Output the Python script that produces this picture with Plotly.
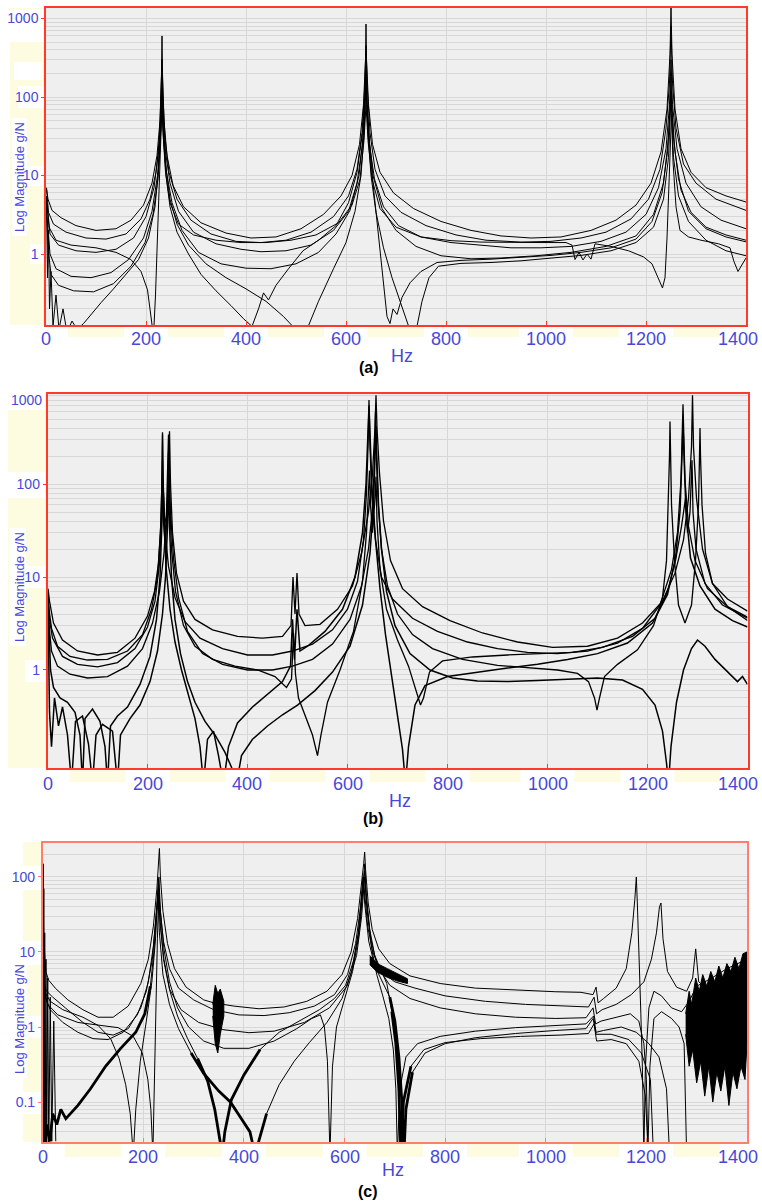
import plotly.graph_objects as go

W, H = 762, 1203
BLUE = "#4848d8"
FONT = "Liberation Sans, Arial, sans-serif"

# ---------------- panel (a): FRF magnitudes, (Hz, g/N) ----------------
a1 = [(1, 6.8), (4, 5.0), (12, 3.6), (30, 2.9), (60, 2.3), (100, 2.0), (140, 2.1), (170, 2.7), (195, 4.2),
      (212, 8), (222, 18), (228, 50), (231, 200), (232, 600), (233, 200), (236, 50), (242, 18), (254, 7.5),
      (275, 4), (310, 2.5), (360, 1.85), (410, 1.6), (460, 1.65), (510, 2.1), (555, 3.2), (590, 5.5),
      (612, 10), (627, 25), (635, 80), (639, 300), (640, 850), (641, 300), (645, 80), (653, 25), (668, 11),
      (695, 6), (735, 3.8), (790, 2.6), (850, 2.0), (910, 1.7), (970, 1.6), (1030, 1.65), (1090, 2.0),
      (1140, 2.7), (1180, 4.2), (1210, 8), (1230, 20), (1242, 70), (1248, 350), (1250, 1400), (1252, 350),
      (1258, 70), (1270, 22), (1290, 11), (1320, 7), (1360, 5.5), (1400, 4.6)]
a2 = [(1, 7.0), (5, 3.4), (15, 2.4), (40, 1.9), (80, 1.6), (120, 1.55), (160, 1.8), (190, 2.8), (208, 5),
      (220, 11), (227, 30), (230, 100), (232, 300), (234, 100), (238, 30), (246, 11), (262, 5), (290, 2.7),
      (330, 1.8), (380, 1.45), (430, 1.4), (480, 1.5), (530, 1.9), (575, 3), (605, 5.5), (622, 12),
      (632, 35), (637, 120), (640, 450), (643, 120), (648, 35), (658, 12), (678, 5.5), (710, 3.4),
      (760, 2.3), (820, 1.75), (880, 1.5), (950, 1.42), (1010, 1.45), (1070, 1.6), (1120, 1.9), (1170, 2.8),
      (1205, 5), (1228, 12), (1240, 40), (1247, 150), (1250, 800), (1253, 150), (1260, 40), (1275, 14),
      (1300, 8), (1340, 5), (1400, 3.6)]
a3 = [(2, 4.5), (8, 1.8), (25, 1.3), (60, 1.1), (100, 1.05), (140, 1.15), (175, 1.6), (200, 3.0), (216, 7),
      (225, 20), (230, 70), (232, 180), (234, 70), (239, 20), (248, 8), (265, 3.5), (295, 1.9), (340, 1.35),
      (390, 1.15), (430, 1.07), (480, 1.1), (530, 1.3), (575, 2), (605, 3.5), (622, 8), (633, 25), (638, 90),
      (640, 250), (642, 90), (647, 25), (657, 9), (675, 4), (705, 2.3), (750, 1.65), (810, 1.4), (870, 1.3),
      (930, 1.2), (990, 1.2), (1050, 1.25), (1110, 1.45), (1160, 1.9), (1200, 3.2), (1225, 7), (1240, 22),
      (1247, 80), (1250, 300), (1253, 80), (1262, 22), (1280, 8), (1310, 4), (1350, 2.7), (1400, 2.1)]
a4 = [(2, 3.0), (8, 1.0), (20, 0.65), (50, 0.52), (90, 0.5), (130, 0.58), (165, 0.85), (195, 1.6), (212, 3.5),
      (223, 10), (229, 35), (232, 110), (235, 35), (241, 11), (252, 4.5), (272, 2.0), (305, 1.05), (350, 0.75),
      (400, 0.66), (450, 0.65), (500, 0.75), (545, 1.05), (580, 1.8), (608, 3.6), (626, 10), (635, 35),
      (640, 140), (645, 35), (654, 10), (672, 3.8), (700, 2), (740, 1.25), (790, 0.95), (850, 0.87),
      (910, 0.89), (980, 0.95), (1050, 1.05), (1120, 1.25), (1180, 1.7), (1215, 3.2), (1235, 8), (1245, 30),
      (1250, 120), (1255, 30), (1265, 9), (1285, 3.5), (1320, 2.1), (1360, 1.65), (1400, 1.43)]
a5 = [(1, 5), (6, 2.2), (20, 1.5), (50, 1.3), (100, 1.2), (140, 1.05), (170, 0.85), (190, 0.6), (203, 0.35),
      (211, 0.15), (215, 0.09), (219, 0.3), (223, 1.5), (227, 7), (230, 35), (232, 110), (234, 35), (239, 11),
      (248, 4.5), (265, 2.4), (295, 1.75), (340, 1.5), (390, 1.4), (440, 1.4), (490, 1.5), (540, 1.75),
      (585, 2.5), (612, 4.2), (628, 9), (636, 28), (640, 80), (644, 28), (652, 9), (668, 3.8), (700, 2.2),
      (750, 1.65), (810, 1.48), (870, 1.42), (930, 1.4), (990, 1.4), (1040, 1.4), (1052, 1.3), (1058, 0.85),
      (1066, 1.05), (1074, 0.84), (1082, 1.0), (1090, 0.86), (1098, 1.35), (1130, 1.25), (1165, 1.1),
      (1195, 0.92), (1212, 0.75), (1224, 0.5), (1233, 0.37), (1238, 0.5), (1242, 1.6), (1246, 8), (1249, 40),
      (1251, 60), (1254, 15), (1260, 4), (1268, 2.0), (1285, 1.65), (1310, 1.5), (1345, 1.35), (1368, 1.2),
      (1376, 0.8), (1384, 0.6), (1392, 0.72), (1400, 0.89)]
a6 = [(1, 4), (4, 1.2), (10, 0.55), (25, 0.4), (55, 0.34), (95, 0.33), (135, 0.42), (170, 0.7), (198, 1.4),
      (214, 3.2), (224, 9), (229, 30), (232, 90), (235, 30), (240, 10), (248, 4), (262, 1.9), (285, 1.0),
      (310, 0.55), (340, 0.34), (370, 0.22), (395, 0.15), (412, 0.12), (425, 0.2), (435, 0.32), (445, 0.26),
      (460, 0.4), (485, 0.65), (514, 1.1), (545, 1.5), (580, 2.3), (605, 4.5), (622, 11), (633, 35),
      (638, 110), (640, 220), (642, 80), (648, 20), (656, 6), (664, 2), (671, 0.7), (677, 0.3), (682, 0.16),
      (688, 0.13), (694, 0.2), (702, 0.17), (712, 0.28), (728, 0.43), (750, 0.6), (782, 0.78), (830, 0.83),
      (890, 0.86), (950, 0.9), (1010, 0.96), (1070, 1.05), (1130, 1.2), (1180, 1.55), (1212, 2.6), (1232, 6),
      (1243, 20), (1248, 70), (1250, 180), (1252, 70), (1258, 20), (1270, 6.5), (1290, 3.4), (1320, 2.2),
      (1360, 1.75), (1400, 1.5)]
a7 = [(1, 5.5), (3, 0.5), (5, 2.0), (7, 0.2), (10, 0.6), (14, 0.12), (20, 0.3), (26, 0.11), (34, 0.2),
      (42, 0.1), (52, 0.14), (62, 0.11), (75, 0.13), (90, 0.17), (110, 0.24), (135, 0.36), (160, 0.55),
      (185, 0.85), (205, 1.6), (218, 4), (226, 14), (230, 45), (232, 130), (234, 45), (239, 14), (248, 5),
      (262, 2.4), (285, 1.3), (320, 0.75), (360, 0.5), (400, 0.36), (440, 0.25), (475, 0.16), (500, 0.11),
      (512, 0.09), (522, 0.11), (545, 0.25), (575, 0.65), (600, 1.4), (618, 3.5), (630, 10), (636, 35),
      (640, 140), (644, 35), (650, 10), (660, 3.4), (675, 1.2), (692, 0.5), (708, 0.25), (722, 0.13),
      (732, 0.09), (742, 0.12), (752, 0.25), (766, 0.5), (785, 0.7), (830, 0.76), (890, 0.78), (950, 0.82),
      (1010, 0.88), (1070, 0.96), (1130, 1.1), (1180, 1.4), (1215, 2.2), (1235, 5), (1245, 17), (1250, 100),
      (1255, 17), (1265, 5.5), (1285, 2.6), (1320, 1.5), (1360, 1.1), (1400, 0.95)]

# ---------------- panel (b) ----------------
b1 = [(1, 7.5), (4, 5.5), (12, 3.2), (30, 2.1), (60, 1.6), (100, 1.45), (140, 1.55), (175, 2.2), (200, 3.8),
      (214, 7), (222, 14), (227, 40), (229, 120), (230, 340), (231, 120), (234, 45), (239, 35), (242, 100),
      (244, 370), (246, 100), (250, 30), (258, 11), (272, 5.5), (295, 3.5), (330, 2.7), (380, 2.3),
      (430, 2.2), (470, 2.3), (487, 3), (491, 10), (495, 4), (499, 11), (503, 4), (515, 3), (545, 3.1),
      (580, 4.5), (610, 8), (628, 18), (642, 50), (650, 130), (655, 400), (657, 900), (659, 400), (664, 130),
      (672, 40), (686, 15), (710, 7.5), (750, 4.8), (805, 3.4), (870, 2.5), (940, 2.0), (1010, 1.75),
      (1080, 1.8), (1140, 2.2), (1190, 3.2), (1230, 5.5), (1255, 11), (1272, 25), (1282, 70), (1288, 250),
      (1290, 900), (1292, 250), (1298, 70), (1310, 20), (1330, 8.5), (1360, 5.8), (1400, 4.3)]
b2 = [(1, 7), (3, 4.5), (8, 2.8), (20, 1.8), (45, 1.4), (80, 1.28), (120, 1.3), (160, 1.6), (190, 2.4),
      (208, 4.5), (220, 10), (226, 30), (229, 110), (230, 360), (231, 110), (234, 35), (242, 13), (255, 6),
      (275, 3.3), (305, 2.2), (350, 1.7), (400, 1.45), (450, 1.45), (490, 1.6), (530, 1.9), (570, 2.7),
      (600, 4.5), (620, 9), (632, 25), (638, 80), (641, 250), (643, 800), (645, 250), (649, 70), (656, 25),
      (668, 10), (690, 5.8), (730, 3.6), (780, 2.6), (840, 2.0), (900, 1.7), (960, 1.55), (1020, 1.5),
      (1080, 1.6), (1140, 1.95), (1190, 2.8), (1225, 5), (1248, 12), (1260, 30), (1267, 110), (1270, 450),
      (1271, 720), (1272, 450), (1275, 110), (1282, 35), (1295, 15), (1320, 7.5), (1360, 4.8), (1400, 3.7)]
b3 = [(1, 6.5), (3, 3), (8, 1.6), (20, 1.1), (45, 0.9), (80, 0.82), (120, 0.85), (160, 1.1), (190, 1.7),
      (210, 3.2), (224, 7), (233, 18), (238, 50), (241, 150), (242, 340), (243, 150), (246, 50), (252, 16),
      (262, 6), (280, 2.6), (310, 1.5), (350, 1.15), (400, 1.0), (450, 1.0), (490, 1.1), (530, 1.3),
      (570, 1.9), (605, 3.5), (628, 8), (642, 20), (650, 55), (654, 180), (656, 600), (658, 180), (662, 55),
      (668, 20), (680, 8), (700, 4), (730, 2.4), (770, 1.7), (830, 1.3), (900, 1.12), (960, 1.05),
      (1020, 1.0), (1060, 0.92), (1082, 0.75), (1094, 0.5), (1099, 0.37), (1104, 0.5), (1114, 0.85),
      (1140, 1.15), (1180, 1.65), (1212, 3), (1230, 6), (1238, 15), (1242, 60), (1244, 200), (1245, 470),
      (1246, 200), (1248, 60), (1254, 15), (1262, 5), (1275, 3.2), (1288, 5), (1296, 15), (1302, 60),
      (1304, 200), (1305, 400), (1306, 200), (1309, 60), (1316, 18), (1330, 8.5), (1360, 4.8), (1400, 3.4)]
b4 = [(1, 6), (3, 2.2), (6, 1.0), (12, 0.65), (25, 0.5), (40, 0.45), (55, 0.35), (65, 0.2), (70, 0.06),
      (75, 0.3), (90, 0.38), (105, 0.28), (115, 0.15), (120, 0.06), (126, 0.25), (140, 0.32), (160, 0.4),
      (185, 0.7), (205, 1.4), (218, 3.5), (225, 10), (229, 40), (231, 110), (233, 40), (237, 13), (245, 4.5),
      (255, 2), (268, 1.0), (282, 0.55), (295, 0.3), (305, 0.15), (312, 0.06), (320, 0.18), (332, 0.22),
      (342, 0.12), (352, 0.06), (362, 0.15), (380, 0.27), (410, 0.4), (440, 0.55), (470, 0.75), (486, 1.1),
      (490, 3.5), (494, 1.3), (499, 4.5), (505, 1.6), (520, 1.8), (555, 2.6), (590, 4.5), (615, 10),
      (630, 30), (637, 100), (641, 350), (643, 700), (645, 350), (649, 90), (656, 25), (665, 7.5), (676, 2.4),
      (688, 0.9), (700, 0.35), (710, 0.14), (716, 0.06), (722, 0.15), (735, 0.42), (755, 0.68), (800, 0.85),
      (860, 0.95), (920, 1.05), (980, 1.15), (1040, 1.3), (1100, 1.5), (1160, 1.95), (1210, 3.2),
      (1240, 6.5), (1256, 16), (1265, 50), (1269, 200), (1271, 450), (1273, 200), (1277, 50), (1286, 16),
      (1305, 8), (1335, 4.5), (1370, 3.4), (1400, 2.9)]
b5 = [(1, 5), (2, 1.2), (4, 0.35), (8, 0.15), (14, 0.5), (22, 0.25), (30, 0.4), (40, 0.2), (48, 0.06),
      (56, 0.28), (70, 0.32), (82, 0.16), (90, 0.06), (97, 0.2), (110, 0.26), (130, 0.22), (140, 0.06),
      (146, 0.2), (165, 0.3), (185, 0.42), (205, 0.75), (220, 1.6), (230, 4), (236, 10), (240, 35),
      (242, 120), (244, 35), (248, 10), (255, 3.5), (266, 1.5), (280, 0.75), (295, 0.45), (315, 0.28),
      (335, 0.2), (355, 0.13), (368, 0.09), (378, 0.06), (388, 0.12), (410, 0.18), (440, 0.25), (470, 0.33),
      (500, 0.42), (535, 0.6), (570, 0.95), (605, 1.8), (630, 5), (645, 18), (652, 60), (656, 250),
      (657, 420), (658, 250), (662, 60), (668, 20), (678, 7), (695, 3), (725, 1.5), (765, 1.0), (810, 0.82),
      (860, 0.76), (920, 0.75), (980, 0.77), (1040, 0.8), (1100, 0.82), (1150, 0.78), (1190, 0.62),
      (1215, 0.42), (1230, 0.22), (1238, 0.1), (1242, 0.06), (1247, 0.15), (1258, 0.45), (1272, 1.0),
      (1288, 1.7), (1300, 2.1), (1315, 1.8), (1335, 1.3), (1360, 0.95), (1380, 0.75), (1390, 0.85),
      (1400, 0.7)]
b6 = [(1, 7), (3, 3.8), (10, 2.2), (30, 1.4), (60, 1.15), (100, 1.08), (140, 1.2), (175, 1.7), (200, 2.9),
      (215, 5.5), (224, 14), (228, 40), (230, 180), (232, 40), (236, 20), (240, 70), (242, 220), (244, 70),
      (248, 20), (256, 7), (272, 3), (295, 1.8), (330, 1.3), (375, 1.1), (420, 1.0), (455, 0.85),
      (478, 0.65), (488, 0.8), (492, 2.5), (496, 0.9), (502, 0.5), (515, 0.32), (530, 0.2), (540, 0.12),
      (547, 0.2), (560, 0.45), (585, 1.0), (612, 2.6), (630, 9), (638, 30), (642, 100), (644, 140),
      (646, 60), (650, 30), (655, 70), (657, 120), (659, 40), (665, 12), (678, 4.5), (700, 2.1), (722, 1.1),
      (738, 0.6), (746, 0.42), (752, 0.5), (764, 0.95), (790, 1.25), (850, 1.38), (920, 1.45), (990, 1.5),
      (1050, 1.55), (1110, 1.75), (1170, 2.3), (1215, 3.6), (1240, 7), (1256, 15), (1268, 35), (1276, 70),
      (1280, 30), (1285, 50), (1289, 180), (1291, 50), (1297, 20), (1315, 8.5), (1350, 5), (1400, 3.6)]

# ---------------- panel (c) ----------------
c1 = [(1, 150), (1.8, 0.02), (3, 12), (6, 5.5), (12, 4.2), (25, 3.3), (50, 2.3), (80, 1.7), (110, 1.35),
      (140, 1.35), (170, 1.9), (195, 3.8), (210, 8), (220, 22), (227, 70), (230, 160), (232, 240), (234, 100),
      (239, 35), (248, 13), (262, 6), (285, 3.4), (320, 2.3), (340, 2.1), (380, 1.9), (430, 1.75),
      (480, 1.85), (525, 2.2), (565, 3), (595, 5), (613, 10), (626, 28), (634, 80), (638, 150), (640, 215),
      (642, 120), (647, 45), (655, 20), (668, 11), (690, 7), (730, 4.8), (790, 3.8), (860, 3.3), (940, 3.1),
      (1020, 2.95), (1070, 2.9), (1094, 2.7), (1100, 3.4), (1104, 2.1), (1115, 2.4), (1140, 3.3),
      (1160, 6), (1171, 18), (1177, 50), (1180, 100), (1182, 45), (1186, 8), (1189, 1.5), (1192, 0.3),
      (1195, 0.02), (1198, 0.3), (1205, 1.8), (1215, 3), (1230, 2.6), (1250, 1.8), (1270, 1.6),
      (1285, 2.2), (1300, 3.5), (1330, 4.5), (1360, 6), (1400, 8)]
c2 = [(1, 60), (1.5, 5), (3, 3.6), (8, 3.0), (20, 2.5), (45, 1.8), (80, 1.15), (110, 0.85), (140, 0.78),
      (170, 0.95), (195, 1.8), (210, 4), (220, 12), (227, 40), (230, 95), (233, 40), (240, 14), (252, 6),
      (270, 3.3), (300, 2.3), (340, 1.7), (390, 1.45), (440, 1.42), (490, 1.55), (540, 1.9), (580, 2.7),
      (606, 5), (622, 13), (632, 40), (637, 100), (640, 60), (646, 22), (656, 10), (672, 5.5), (700, 4),
      (740, 3.3), (800, 2.6), (880, 2.2), (960, 2.0), (1040, 1.9), (1085, 1.85), (1096, 2.5), (1101, 1.5),
      (1112, 1.7), (1140, 2.0), (1170, 2.7), (1195, 4), (1210, 8), (1220, 18), (1226, 40), (1229, 45),
      (1233, 15), (1242, 5.5), (1260, 3.4), (1280, 3), (1292, 4.5), (1298, 11), (1304, 4), (1320, 3.2),
      (1350, 3.8), (1400, 5)]
c3 = [(1, 25), (2, 4), (6, 2.8), (15, 2.2), (40, 1.7), (80, 1.35), (110, 1.05), (135, 0.7), (152, 0.38),
      (165, 0.17), (174, 0.07), (180, 0.02), (185, 0.08), (194, 0.35), (206, 1.2), (217, 4), (224, 14),
      (228, 45), (231, 100), (234, 35), (241, 11), (252, 4), (268, 1.8), (290, 1.0), (320, 0.65),
      (360, 0.52), (410, 0.52), (460, 0.65), (505, 0.95), (535, 1.3), (552, 1.45), (560, 1.0), (566, 0.35),
      (571, 0.02), (576, 0.3), (584, 1.0), (600, 2.3), (616, 5.5), (628, 16), (636, 55), (640, 120),
      (644, 45), (652, 15), (665, 6.5), (690, 3.6), (730, 2.4), (790, 1.8), (860, 1.5), (940, 1.35),
      (1020, 1.3), (1080, 1.33), (1094, 1.8), (1099, 1.1), (1110, 1.2), (1140, 1.35), (1168, 1.5),
      (1185, 1.2), (1195, 0.6), (1200, 0.2), (1203, 0.02), (1207, 0.3), (1215, 1.3), (1230, 1.6),
      (1250, 1.3), (1265, 1.0), (1275, 0.6), (1280, 0.02)]
c4 = [(1, 8), (3, 3.2), (10, 2.0), (30, 1.45), (70, 1.15), (110, 1.05), (150, 0.98), (180, 0.75), (198, 0.45),
      (209, 0.2), (215, 0.08), (219, 0.02), (222, 0.25), (225, 2), (228, 15), (231, 70), (234, 25), (240, 8),
      (252, 3.2), (275, 1.7), (310, 1.15), (360, 0.92), (410, 0.84), (460, 0.88), (520, 1.15), (570, 1.8),
      (605, 3.5), (624, 9), (634, 30), (640, 100), (645, 35), (654, 11), (664, 5), (676, 2.6), (688, 1.3),
      (697, 0.5), (702, 0.15), (705, 0.02), (710, 0.15), (722, 0.4), (745, 0.6), (790, 0.75), (860, 0.88),
      (940, 0.98), (1020, 1.05), (1080, 1.1), (1095, 1.4), (1100, 0.85), (1115, 0.9), (1150, 1.0),
      (1180, 0.85), (1205, 0.6), (1225, 0.4), (1240, 0.15), (1246, 0.02)]
c5 = [(3, 0.02), (8, 0.05), (14, 0.03), (20, 0.07), (28, 0.05), (36, 0.08), (46, 0.06), (55, 0.07), (70, 0.09),
      (95, 0.15), (125, 0.3), (155, 0.52), (185, 0.85), (203, 1.5), (214, 3.5), (221, 10), (226, 35),
      (229, 60), (232, 18), (239, 5), (252, 2), (270, 0.95), (295, 0.45), (320, 0.24), (350, 0.14),
      (373, 0.1), (395, 0.06), (412, 0.04), (422, 0.02), (432, 0.035), (445, 0.07), (470, 0.17), (500, 0.35),
      (530, 0.62), (565, 1.15), (595, 2.4), (614, 5.5), (627, 17), (634, 55), (637, 100), (640, 45),
      (648, 14), (660, 6.5), (676, 4), (690, 2.5), (700, 1.2), (708, 0.4), (714, 0.1), (718, 0.02),
      (722, 0.08), (735, 0.25), (760, 0.45), (800, 0.6), (860, 0.72), (940, 0.82), (1020, 0.9), (1080, 0.95),
      (1094, 1.3), (1100, 0.8), (1130, 0.8), (1165, 0.68), (1190, 0.45), (1208, 0.2), (1214, 0.02)]
c6 = [(2, 6), (6, 2.4), (15, 1.7), (40, 1.15), (70, 0.85), (100, 0.7), (130, 0.68), (160, 0.85), (188, 1.45),
      (206, 3), (218, 8), (225, 28), (230, 70), (233, 25), (241, 8), (253, 3), (268, 1.4), (288, 0.7),
      (308, 0.38), (328, 0.19), (342, 0.08), (352, 0.03), (357, 0.02), (362, 0.04), (375, 0.107), (400, 0.23),
      (432, 0.5), (470, 0.85), (510, 1.2), (550, 1.7), (580, 2.4), (602, 3.6), (619, 8), (631, 25), (637, 80),
      (640, 150), (643, 60), (650, 20), (660, 9), (672, 5.8), (684, 3.8), (694, 1.6), (702, 0.6), (708, 0.15),
      (712, 0.02), (717, 0.1), (732, 0.3), (758, 0.5), (800, 0.62), (870, 0.7), (950, 0.75), (1030, 0.78),
      (1085, 0.82), (1096, 1.1), (1101, 0.65), (1130, 0.68), (1160, 0.6), (1185, 0.35), (1198, 0.12),
      (1204, 0.02)]
c_start = [(1, 150), (1.5, 0.02), (2.2, 70), (3, 0.02), (4, 18), (5, 0.02), (6.5, 8), (8, 0.02), (10, 4.5),
           (12, 0.02), (15, 2.5), (18, 0.03), (22, 1.2), (26, 0.03)]

# dense noise envelopes in panel (c): upper and lower edges
c_burst_hi = [(338, 2.0), (343, 3.6), (348, 2.8), (353, 3.2), (360, 2.2)]
c_burst_lo = [(338, 1.4), (343, 0.6), (348, 0.45), (353, 0.8), (360, 1.4)]
c_mid_hi = [(650, 9), (665, 7), (685, 6), (705, 5.2), (725, 4.4)]
c_mid_lo = [(650, 6.8), (665, 5.4), (685, 4.6), (705, 4.1), (725, 3.8)]
c_tail_hi = [(1278, 1.5), (1285, 3), (1290, 2), (1298, 4.5), (1305, 3), (1312, 5), (1320, 3.5), (1328, 5.5),
             (1336, 4), (1344, 6.5), (1352, 4.5), (1360, 7), (1368, 5.5), (1376, 8.5), (1384, 6), (1392, 9.5),
             (1400, 10)]
c_tail_lo = [(1278, 0.8), (1285, 0.3), (1292, 0.5), (1300, 0.18), (1308, 0.35), (1316, 0.12), (1324, 0.3),
             (1332, 0.1), (1340, 0.25), (1348, 0.14), (1356, 0.3), (1364, 0.09), (1372, 0.25), (1380, 0.15),
             (1388, 0.3), (1396, 0.2), (1400, 0.6)]

X_TICKS = [0, 200, 400, 600, 800, 1000, 1200, 1400]
Y_TICKS_A = [1, 10, 100, 1000]
Y_TICKS_B = [1, 10, 100]
Y_TICKS_C = [0.1, 1, 10, 100]

fig = go.Figure()


def lines(curves, ax, width, spans=None):
    # spans: optional frequency windows where the trace is drawn (heavier overlays)
    for c in curves:
        if spans is None:
            runs = [c]
        else:
            runs, cur = [], []
            for p in c:
                if any(lo <= p[0] <= hi for lo, hi in spans):
                    cur.append(p)
                elif cur:
                    runs.append(cur)
                    cur = []
            if cur:
                runs.append(cur)
        for r in runs:
            fig.add_trace(go.Scatter(
                x=[p[0] for p in r], y=[p[1] for p in r], mode="lines",
                line=dict(color="black", width=width), xaxis="x" + ax, yaxis="y" + ax,
                showlegend=False, hoverinfo="skip"))


def band(hi, lo, ax):
    xs = [p[0] for p in hi] + [p[0] for p in reversed(lo)]
    ys = [p[1] for p in hi] + [p[1] for p in reversed(lo)]
    fig.add_trace(go.Scatter(
        x=xs, y=ys, mode="lines", fill="toself", fillcolor="black",
        line=dict(color="black", width=1), xaxis="x" + ax, yaxis="y" + ax,
        showlegend=False, hoverinfo="skip"))


lines([a1, a2, a3, a4, a5, a6, a7], "", 1.0)
lines([b1, b2, b3, b6], "2", 1.3)
lines([b4, b5], "2", 1.5)
lines([c1, c2, c3, c4, c5, c6, c_start], "3", 1.0)
lines([c5], "3", 2.8, spans=[(0, 215), (290, 460), (690, 740)])
lines([c6], "3", 2.8, spans=[(290, 460), (690, 740)])
band(c_burst_hi, c_burst_lo, "3")
band(c_mid_hi, c_mid_lo, "3")
band(c_tail_hi, c_tail_lo, "3")


def minor_vals(lo_exp, hi_exp):
    out = []
    for e in range(lo_exp, hi_exp + 1):
        for m in range(2, 10):
            out.append(m * 10.0 ** e)
    return out


def fmt(v):
    return "0.1" if v < 1 else str(int(v))


GRID = "#d7d7d7"


def axes(n, x0, x1, y0, y1, yr, yticks, border, minor):
    sx = "" if n == 1 else str(n)
    xa = dict(domain=[x0 / W, x1 / W], range=[0, 1400], anchor="y" + sx, automargin=False,
              tickvals=X_TICKS, showticklabels=False,
              showgrid=True, gridcolor=GRID, gridwidth=1, zeroline=False,
              showline=True, linecolor=border, linewidth=1.5, mirror=True,
              ticks="inside", ticklen=4, tickcolor=border)
    ya = dict(domain=[1 - y1 / H, 1 - y0 / H], type="log", range=yr, anchor="x" + sx, automargin=False,
              tickvals=yticks, ticktext=[fmt(t) for t in yticks],
              tickfont=dict(family=FONT, size=14, color=BLUE),
              showgrid=True, gridcolor=GRID, gridwidth=1, zeroline=False,
              showline=True, linecolor=border, linewidth=1.5, mirror=True,
              ticks="outside", ticklen=3, tickcolor=border,
              minor=dict(tickmode="array", tickvals=minor, showgrid=True, gridcolor=GRID, gridwidth=1))
    return xa, ya


xa1, ya1 = axes(1, 46, 746, 8, 325, [-0.904, 3.134], Y_TICKS_A, "#ff3a2a", minor_vals(-1, 3))
xa2, ya2 = axes(2, 47.5, 747.5, 394, 768, [-1.054, 2.968], Y_TICKS_B, "#ff3a2a", minor_vals(-2, 2))
xa3, ya3 = axes(3, 42.7, 747, 843, 1142, [-1.533, 2.453], Y_TICKS_C, "#ff7f6c", minor_vals(-2, 2))

# faint backdrop strips around the axes, with clear boxes behind the labels
YEL = "#fdfbe0"
shapes = []


def rect(x0, y0, x1, y1, color):
    shapes.append(dict(type="rect", xref="paper", yref="paper", x0=x0 / W, x1=x1 / W,
                       y0=1 - y1 / H, y1=1 - y0 / H, fillcolor=color, line=dict(width=0), layer="below"))


def strips(left, bottom, x_zero, x_scale, whites):
    rect(*left, YEL)
    rect(*bottom, YEL)
    for t in X_TICKS:
        cx = x_zero + t * x_scale
        half = 27 if t >= 1000 else 22
        rect(cx - half, bottom[1], cx + half, bottom[3], "white")
    for w in whites:
        rect(*w, "white")


strips((10, 8, 46, 325), (46, 325, 750, 337), 46, 0.5,
       [(10, 9, 44, 42), (14, 62, 42, 80), (18, 86, 45, 108), (12, 118, 27, 236), (22, 166, 45, 186),
        (30, 244, 45, 264)])
strips((8, 394, 47, 768), (47, 768, 750, 782), 47.5, 0.5,
       [(8, 392, 45, 410), (8, 472, 45, 498), (9, 528, 26, 646), (25, 566, 45, 588), (25, 660, 45, 682)])
strips((23, 842, 43, 1150), (43, 1142, 750, 1157), 42.7, 0.503,
       [(23, 866, 42, 890), (23, 941, 42, 965), (10, 960, 27, 1078), (23, 1016, 42, 1038),
        (23, 1092, 42, 1114)])

ann = []


def text(x, y, s, size, color, bold=False, angle=0, anchor="center"):
    ann.append(dict(x=x / W, y=1 - y / H, xref="paper", yref="paper", text=("<b>%s</b>" % s) if bold else s,
                    showarrow=False, textangle=angle, xanchor=anchor, yanchor="middle",
                    font=dict(family=FONT, size=size, color=color)))


# frequency labels under each frame; the last one is kept inside the page edge
for x_zero, x_scale, y_lab in ((46, 0.5, 339), (47.5, 0.5, 784), (42.7, 0.503, 1157)):
    for t in X_TICKS:
        if t == X_TICKS[-1]:
            text(760, y_lab, str(t), 18, BLUE, anchor="right")
        else:
            text(x_zero + t * x_scale, y_lab, str(t), 18, BLUE)

for yc in (177, 587, 1019):
    text(19, yc, "Log Magnitude g/N", 13, BLUE, angle=-90)
text(402, 356, "Hz", 18, BLUE)
text(400, 801, "Hz", 18, BLUE)
text(393, 1170, "Hz", 18, BLUE)
text(369, 368, "(a)", 16, "black", bold=True)
text(373, 818, "(b)", 16, "black", bold=True)
text(368, 1191, "(c)", 16, "black", bold=True)
# top label of panel (b) sits just inside the frame
text(44, 400, "1000", 14, BLUE, anchor="right")

fig.update_layout(
    width=W, height=H, autosize=False, margin=dict(l=0, r=0, t=0, b=0),
    paper_bgcolor="white", plot_bgcolor="#efefef",
    xaxis=xa1, yaxis=ya1, xaxis2=xa2, yaxis2=ya2, xaxis3=xa3, yaxis3=ya3,
    shapes=shapes, annotations=ann, showlegend=False)

fig.write_html("out.html")
